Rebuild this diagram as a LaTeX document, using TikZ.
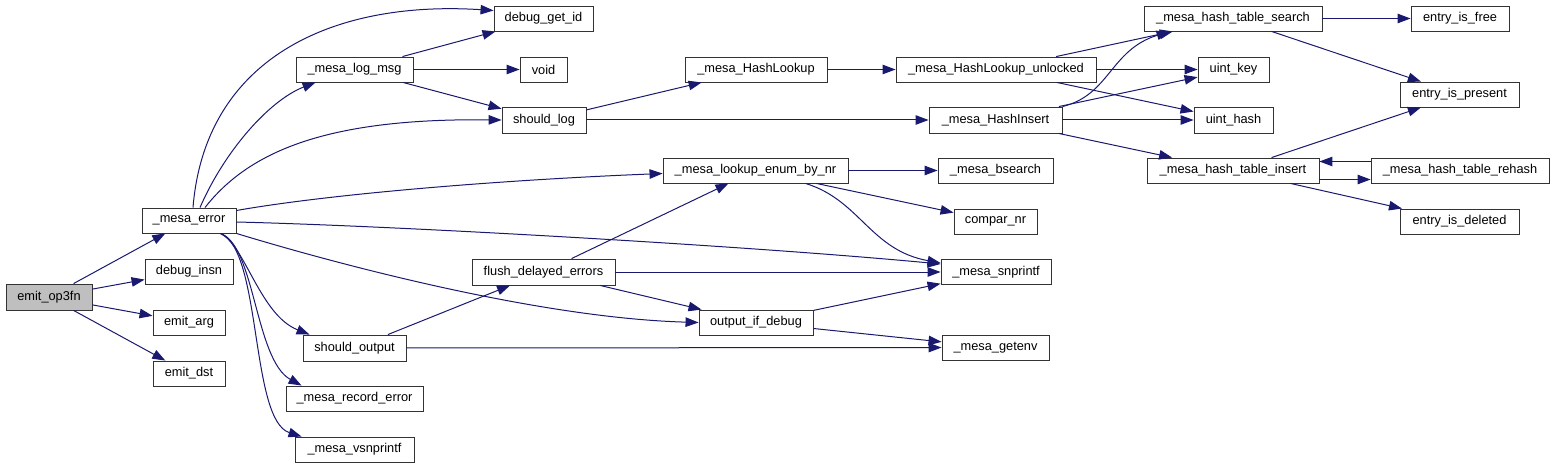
\documentclass[tikz,border=0pt]{standalone}
\usepackage{fontspec}
\setmainfont{Liberation Sans}
\usetikzlibrary{arrows.meta}
\definecolor{edgeblue}{HTML}{191970}
\definecolor{rootgray}{HTML}{BFBFBF}
\tikzset{call/.style={draw=edgeblue, line width=1pt, -{Triangle[length=13pt,width=9.5pt]}},
  fn/.style={draw=black!80, line width=0.9pt, fill=white, minimum height=25pt, inner sep=0pt,
    font=\fontsize{12.8}{14}\selectfont}}

\begin{document}
\begin{tikzpicture}[x=1pt, y=-1pt]
  \useasboundingbox (0,0) rectangle (1555,468);
  % column 0/1
  \node[fn, fill=rootgray, minimum width=86pt, minimum height=26pt] (op3fn) at (49,297) {emit\_op3fn};
  \node[fn, minimum width=94pt] (err) at (189,220.5) {\_mesa\_error};
  \node[fn, minimum width=88pt] (dinsn) at (189,271.5) {debug\_insn};
  \node[fn, minimum width=72pt] (earg) at (189,322.5) {emit\_arg};
  \node[fn, minimum width=72pt] (edst) at (189,373.5) {emit\_dst};
  % column 2
  \node[fn, minimum width=117pt] (logmsg) at (354.5,69.5) {\_mesa\_log\_msg};
  \node[fn, minimum width=103pt, minimum height=26pt] (sout) at (354.5,348) {should\_output};
  \node[fn, minimum width=137pt] (recerr) at (354.5,398.5) {\_mesa\_record\_error};
  \node[fn, minimum width=119pt] (vsnp) at (354.5,449.5) {\_mesa\_vsnprintf};
  % column 3
  \node[fn, minimum width=99pt] (dgid) at (543.5,18.5) {debug\_get\_id};
  \node[fn, minimum width=47pt] (void) at (543.5,69.5) {void};
  \node[fn, minimum width=84pt, minimum height=26pt] (slog) at (544,120) {should\_log};
  \node[fn, minimum width=143pt, minimum height=26pt] (flush) at (543.5,272) {flush\_delayed\_errors};
  % column 4
  \node[fn, minimum width=142pt] (hlook) at (756,69.5) {\_mesa\_HashLookup};
  \node[fn, minimum width=185pt] (lenum) at (755.5,170.5) {\_mesa\_lookup\_enum\_by\_nr};
  \node[fn, minimum width=114pt] (oidbg) at (756,322.5) {output\_if\_debug};
  % column 5
  \node[fn, minimum width=200pt] (hlu) at (996,69.5) {\_mesa\_HashLookup\_unlocked};
  \node[fn, minimum width=133pt, minimum height=26pt] (hins) at (995.5,120) {\_mesa\_HashInsert};
  \node[fn, minimum width=115pt] (bsrch) at (995.5,170.5) {\_mesa\_bsearch};
  \node[fn, minimum width=83pt] (cmpnr) at (995.5,221.5) {compar\_nr};
  \node[fn, minimum width=110pt] (snpr) at (996,272) {\_mesa\_snprintf};
  \node[fn, minimum width=107pt] (genv) at (995.5,347.5) {\_mesa\_getenv};
  % column 6
  \node[fn, minimum width=178pt] (hsrch) at (1233,18.5) {\_mesa\_hash\_table\_search};
  \node[fn, minimum width=71pt] (ukey) at (1233.5,69.5) {uint\_key};
  \node[fn, minimum width=79pt, minimum height=26pt] (uhash) at (1233.5,120) {uint\_hash};
  \node[fn, minimum width=172pt] (hinsert) at (1233,170.5) {\_mesa\_hash\_table\_insert};
  % column 7
  \node[fn, minimum width=98pt] (efree) at (1460,18.5) {entry\_is\_free};
  \node[fn, minimum width=119pt] (epres) at (1459.5,94.5) {entry\_is\_present};
  \node[fn, minimum width=178pt] (rehash) at (1460,170.5) {\_mesa\_hash\_table\_rehash};
  \node[fn, minimum width=119pt] (edel) at (1459.5,221.5) {entry\_is\_deleted};

  % calls from emit_op3fn
  \foreach \t in {err,dinsn,earg,edst}
    \draw[call] (op3fn) -- (\t);
  % calls from _mesa_error
  \draw[call] ([xshift=4pt]err.north) .. controls (205,60) and (330,0) .. ([yshift=8pt]dgid.west);
  \draw[call] ([xshift=11pt]err.north) .. controls (225,150) and (270,100) .. ([xshift=20pt]logmsg.south west);
  \draw[call] ([xshift=16pt]err.north) .. controls (250,150) and (330,118) .. (slog.west);
  \draw[call] ([yshift=10pt]err.east) .. controls (330,194) and (500,180) .. ([yshift=-3pt]lenum.west);
  \draw[call] ([yshift=-1.5pt]err.east) .. controls (400,226) and (750,246) .. ([yshift=8pt]snpr.west);
  \draw[call] (err.south east) .. controls (340,265) and (540,318) .. (oidbg.west);
  \draw[call] ([xshift=-16pt]err.south east) .. controls (245,245) and (260,315) .. ([xshift=7pt]sout.north west);
  \draw[call] ([xshift=-16pt]err.south east) .. controls (255,245) and (255,360) .. ([xshift=16pt]recerr.north west);
  \draw[call] ([xshift=-16pt]err.south east) .. controls (262,250) and (250,420) .. ([xshift=7pt]vsnp.north west);
  % _mesa_log_msg, should_log
  \draw[call] (logmsg) -- (dgid);
  \draw[call] (logmsg) -- (void);
  \draw[call] (logmsg) -- (slog);
  \draw[call] (slog) -- (hlook);
  \draw[call] (slog) -- (hins);
  \draw[call] (hlook) -- (hlu);
  % hash table
  \draw[call] (hlu) -- (hsrch);
  \draw[call] (hlu) -- (ukey);
  \draw[call] (hlu) -- (uhash);
  \draw[call] (hins.north east) .. controls (1110,95) and (1110,50) .. ([xshift=26pt]hsrch.south west);
  \draw[call] (hins) -- (ukey);
  \draw[call] (hins) -- (uhash);
  \draw[call] (hins) -- (hinsert);
  \draw[call] (hsrch) -- (efree);
  \draw[call] (hsrch) -- (epres);
  \draw[call] (hinsert) -- (epres);
  \draw[call] ([yshift=-9pt]hinsert.east) -- ([yshift=-9pt]rehash.west);
  \draw[call] ([yshift=9pt]rehash.west) -- ([yshift=9pt]hinsert.east);
  \draw[call] (hinsert) -- (edel);
  % enum lookup and output
  \draw[call] (lenum) -- (bsrch);
  \draw[call] (lenum) -- (cmpnr);
  \draw[call] ([xshift=50pt]lenum.south) .. controls (860,200) and (870,250) .. ([yshift=9pt]snpr.west);
  \draw[call] (flush) -- (lenum);
  \draw[call] (flush) -- (snpr);
  \draw[call] (flush) -- (oidbg);
  \draw[call] (oidbg) -- (snpr);
  \draw[call] (oidbg) -- (genv);
  \draw[call] (sout) -- (flush);
  \draw[call] (sout) -- (genv);
\end{tikzpicture}
\end{document}
